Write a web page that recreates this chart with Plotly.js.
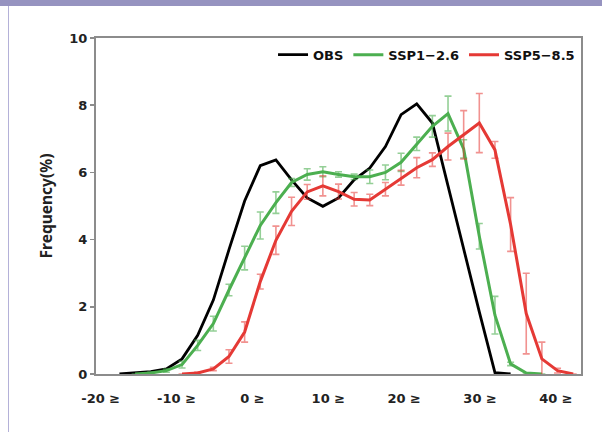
<!DOCTYPE html>
<html>
<head>
<meta charset="utf-8">
<script src="https://cdn.plot.ly/plotly-3.0.1.min.js"></script>
<style>
  html, body { margin: 0; padding: 0; background: #ffffff; }
  #wrap { position: relative; width: 602px; height: 432px; overflow: hidden; }
  #chart { position: absolute; left: 0; top: 0; width: 602px; height: 432px; }
  #topbar { position: absolute; left: 0; top: 0; width: 602px; height: 6px; background: #9693c0; z-index: 5; }
  #leftline { position: absolute; left: 8px; top: 6px; width: 1px; height: 426px; background: #b4b1d8; z-index: 5; }
</style>
</head>
<body>
<div id="wrap">
  <div id="chart"></div>
  <div id="topbar"></div>
  <div id="leftline"></div>
</div>
<script>
// Temperature bins (category values)
const bins = [-20,-18,-16,-14,-12,-10,-8,-6,-4,-2,0,2,4,6,8,10,12,14,16,18,20,22,24,26,28,30,32,34,36,38,40];

// Frequency (%) per bin
const obs = [null,0,0.03,0.07,0.15,0.45,1.15,2.2,3.7,5.15,6.2,6.37,5.78,5.24,4.99,5.24,5.78,6.13,6.77,7.72,8.04,7.47,5.6,3.7,1.85,0.04,0,null,null,null,null];
const ssp126 = [null,null,0,0.03,0.1,0.28,0.85,1.5,2.5,3.45,4.42,5.1,5.7,5.94,6.02,5.94,5.87,5.87,6.0,6.3,6.85,7.37,7.75,6.7,4.1,1.75,0.3,0.03,0,null,null];
const ssp126Err = [null,null,0,0.03,0.05,0.1,0.15,0.22,0.17,0.35,0.4,0.32,0.12,0.17,0.15,0.08,0.08,0.2,0.22,0.27,0.2,0.32,0.52,0.27,0.38,0.56,0.05,0,0,null,null];
const ssp585 = [null,null,null,null,null,0,0.03,0.15,0.52,1.25,2.75,3.98,4.84,5.42,5.6,5.43,5.2,5.18,5.5,5.84,6.14,6.38,6.77,7.12,7.47,6.67,4.45,1.8,0.45,0.1,0];
const ssp585Err = [null,null,null,null,null,0,0.03,0.05,0.2,0.3,0.22,0.42,0.42,0.22,0.3,0.22,0.2,0.17,0.2,0.22,0.3,0.2,0.4,0.72,0.88,0.25,0.8,1.2,0.5,0.07,0];

// Axis tick labels
const xTickText = ["-20 \u2265","-10 \u2265","0 \u2265","10 \u2265","20 \u2265","30 \u2265","40 \u2265"];
const yTicks = [0,2,4,6,8,10];

const seriesNames = ["OBS","SSP1\u22122.6","SSP5\u22128.5"];

// label placement as seen in the reference (labels step slightly less than 10)
const xTickPos = xTickText.map((_, i) => -20.4 + 9.7 * i);

const FONT = "'DejaVu Sans', 'Noto Sans', sans-serif";
const TITLE_FONT = "'Noto Sans', 'Open Sans', sans-serif";

const traces = [
  {
    x: bins, y: obs, name: seriesNames[0], type: "scatter", mode: "lines",
    line: {color: "#000000", width: 2.8}, connectgaps: false
  },
  {
    x: bins, y: ssp126, name: seriesNames[1], type: "scatter", mode: "lines",
    line: {color: "#4caf50", width: 3},
    error_y: {type: "data", array: ssp126Err, visible: true, color: "rgba(76,175,80,0.6)", thickness: 1.6, width: 3.5}
  },
  {
    x: bins, y: ssp585, name: seriesNames[2], type: "scatter", mode: "lines",
    line: {color: "#e53935", width: 3},
    error_y: {type: "data", array: ssp585Err, visible: true, color: "rgba(229,57,53,0.55)", thickness: 1.6, width: 3.5}
  }
];

const layout = {
  width: 602, height: 432,
  margin: {l: 96, r: 21, t: 38, b: 58},
  paper_bgcolor: "#ffffff", plot_bgcolor: "#ffffff",
  font: {family: FONT, size: 13, color: "#222222", weight: "bold"},
  showlegend: true,
  legend: {
    orientation: "h", x: 0.998, xanchor: "right", y: 0.995, yanchor: "top",
    bgcolor: "rgba(0,0,0,0)", font: {family: FONT, size: 13, color: "#111111", weight: "bold"},
    itemwidth: 30, tracegroupgap: 0, traceorder: "normal"
  },
  xaxis: {
    range: [-21, 41], showgrid: false, zeroline: false,
    tickmode: "array", tickvals: xTickPos, ticktext: xTickText,
    ticks: "", ticklabelstandoff: 11,
    showline: true, linecolor: "#8c8c8c", linewidth: 2, mirror: true,
    tickfont: {family: FONT, size: 13, color: "#222222", weight: "bold"}
  },
  yaxis: {
    range: [0, 10], showgrid: false, zeroline: false,
    tickmode: "array", tickvals: yTicks,
    ticks: "outside", ticklen: 4, tickcolor: "#8c8c8c", tickwidth: 1.5,
    showline: true, linecolor: "#8c8c8c", linewidth: 2, mirror: true,
    tickfont: {family: FONT, size: 13, color: "#222222", weight: "bold"},
    title: {text: "Frequency(%)", standoff: 13, font: {family: TITLE_FONT, size: 15.5, color: "#222222", weight: "bold"}}
  }
};

Plotly.newPlot("chart", traces, layout, {displayModeBar: false, staticPlot: true});
</script>
</body>
</html>
